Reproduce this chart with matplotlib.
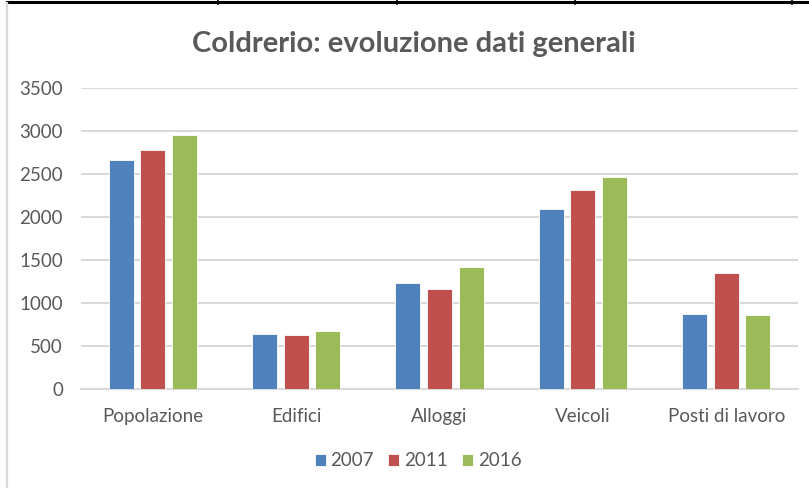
import matplotlib
matplotlib.use("Agg")
import matplotlib.pyplot as plt
from matplotlib.lines import Line2D
import numpy as np

# data
categories = ["Popolazione", "Edifici", "Alloggi", "Veicoli", "Posti di lavoro"]
years = ["2007", "2011", "2016"]
values_2007 = [2663, 640, 1229, 2093, 876]
values_2011 = [2779, 624, 1166, 2310, 1352]
values_2016 = [2953, 678, 1422, 2461, 864]
y_ticks = [0, 500, 1000, 1500, 2000, 2500, 3000, 3500]

colors = ["#4F81BD", "#C0504D", "#9BBB59"]
text_gray = "#595959"
grid_gray = "#D9D9D9"

plt.rcParams['font.family'] = ['Lato', 'DejaVu Sans']

W, H = 809, 488
fig = plt.figure(figsize=(W / 100, H / 100), dpi=100)
fig.patch.set_facecolor("white")

# axes placed in pixel terms (left 81, right 798, baseline y=389, top 3500 at y=88)
ax = fig.add_axes([81 / W, (H - 389) / H, 717 / W, 301 / H])

x = np.arange(len(categories))
bar_w = 0.175
offset = 0.22
series = [values_2007, values_2011, values_2016]
for i, (vals, year) in enumerate(zip(series, years)):
    ax.bar(x + (i - 1) * offset, vals, width=bar_w, color=colors[i],
           edgecolor="white", linewidth=0.6, label=year, zorder=3)

ax.set_xlim(-0.5, len(categories) - 0.5)
ax.set_ylim(0, 3500)
ax.set_yticks(y_ticks)
ax.set_yticklabels([str(v) for v in y_ticks])
ax.set_xticks(x)
ax.set_xticklabels(categories)

ax.yaxis.grid(True, color=grid_gray, linewidth=1.5, zorder=0)
ax.set_axisbelow(True)
for s in ["top", "right", "left"]:
    ax.spines[s].set_visible(False)
ax.spines["bottom"].set_color(grid_gray)
ax.spines["bottom"].set_linewidth(1.5)
ax.tick_params(axis="both", length=0, labelsize=13.5, colors=text_gray)
ax.tick_params(axis="y", pad=13)
ax.tick_params(axis="x", pad=13.5)

fig.text(414 / W, 1 - 44 / H, "Coldrerio: evoluzione dati generali",
         ha="center", va="center", fontsize=21, fontweight="bold", color=text_gray)

leg = fig.legend(loc="center", bbox_to_anchor=(418 / W, 1 - 461 / H), ncol=3,
                 frameon=False, fontsize=13.5, handlelength=0.6, handleheight=0.6,
                 handletextpad=0.25, columnspacing=0.75)
for t in leg.get_texts():
    t.set_color(text_gray)

# frame bits from the surrounding sheet
fig.add_artist(Line2D([7 / W, 1], [1 - 2 / H, 1 - 2 / H], color="black", linewidth=2.2))
fig.add_artist(Line2D([7 / W, 7 / W], [0, 1 - 3 / H], color=grid_gray, linewidth=1.6))
for px in [218, 397, 575, 792]:
    fig.add_artist(Line2D([px / W, px / W], [1, 1 - 4 / H], color="black", linewidth=1.2))

fig.savefig("out.png", dpi=100)
